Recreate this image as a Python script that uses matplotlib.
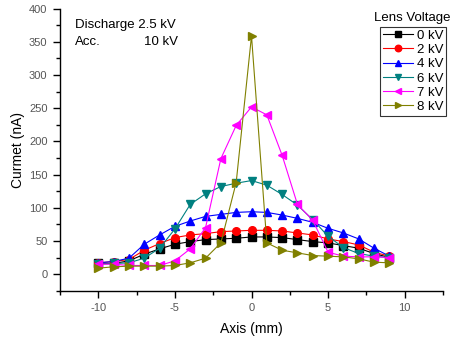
import matplotlib
matplotlib.use("Agg")
import matplotlib.pyplot as plt
from matplotlib.ticker import MultipleLocator

plt.rcParams['font.family'] = ['Liberation Sans', 'DejaVu Sans']
plt.rcParams['axes.unicode_minus'] = False

x_mm = [-10, -9, -8, -7, -6, -5, -4, -3, -2, -1, 0, 1, 2, 3, 4, 5, 6, 7, 8, 9]

v0 = [16, 16, 20, 30, 38, 45, 49, 52, 53, 54, 56, 56, 55, 52, 49, 47, 43, 39, 31, 25]
v2 = [17, 19, 22, 36, 46, 55, 59, 61, 64, 65, 66, 66, 65, 62, 59, 53, 49, 44, 33, 27]
v4 = [17, 19, 24, 45, 59, 72, 80, 87, 90, 93, 94, 93, 89, 84, 78, 69, 62, 53, 39, 27]
v6 = [15, 16, 17, 24, 39, 68, 105, 121, 132, 137, 141, 134, 120, 104, 82, 57, 40, 31, 27, 25]
v7 = [15, 15, 13, 13, 13, 20, 38, 70, 174, 224, 252, 240, 179, 105, 81, 33, 27, 26, 26, 25]
v8 = [9, 11, 12, 12, 12, 13, 17, 24, 47, 138, 359, 47, 36, 32, 28, 27, 26, 23, 18, 17]

labels = ['0 kV', '2 kV', '4 kV', '6 kV', '7 kV', '8 kV']
series = [v0, v2, v4, v6, v7, v8]
colors = ['#000000', '#ff0000', '#0000ff', '#008080', '#ff00ff', '#808000']
markers = ['s', 'o', '^', 'v', '<', '>']

fig = plt.figure(figsize=(4.57, 3.38), dpi=100)
ax = fig.add_axes([60/457, 1 - 290.7/338, 383/457, 282/338])

handles = []
for y, lab, c, m in zip(series, labels, colors, markers):
    h, = ax.plot(x_mm, y, color=c, marker=m, markersize=5.5, linewidth=0.8,
                 markeredgecolor=c, label=lab)
    handles.append(h)

ax.set_xlim(-12.5, 12.5)
ax.set_ylim(-25, 400)
ax.xaxis.set_major_locator(MultipleLocator(5))
ax.xaxis.set_minor_locator(MultipleLocator(2.5))
ax.yaxis.set_major_locator(MultipleLocator(50))
ax.yaxis.set_minor_locator(MultipleLocator(25))
for s in ['top', 'right']:
    ax.spines[s].set_visible(False)
ax.spines['left'].set_linewidth(1.0)
ax.spines['bottom'].set_linewidth(1.0)
ax.tick_params(which='major', direction='out', length=5, width=1, labelsize=8,
               labelcolor='#555555', pad=4)
ax.tick_params(which='minor', direction='out', length=3, width=1)

ax.set_xlabel('Axis (mm)', fontsize=10, labelpad=6)
ax.set_ylabel('Curmet (nA)', fontsize=10, labelpad=3)

ax.text(75/457, 1 - 25/338, 'Discharge 2.5 kV', transform=fig.transFigure,
        fontsize=9.5, va='center', ha='left')
ax.text(75/457, 1 - 42/338, 'Acc.', transform=fig.transFigure,
        fontsize=9.5, va='center', ha='left')
ax.text(178/457, 1 - 42/338, '10 kV', transform=fig.transFigure,
        fontsize=9.5, va='center', ha='right')

fig.text(412/457, 1 - 18/338, 'Lens Voltage', fontsize=9.5, ha='center', va='center')
leg = ax.legend(handles=handles, loc='upper left',
                bbox_to_anchor=(380/457, 1 - 27/338), bbox_transform=fig.transFigure,
                frameon=True, fancybox=False, fontsize=9.5, handlelength=2.3,
                handletextpad=0.3, labelspacing=0.15, borderpad=0.2,
                borderaxespad=0, markerscale=0.85)
leg.get_frame().set_edgecolor('#000000')
leg.get_frame().set_linewidth(0.8)

fig.savefig('out.png', dpi=100)
